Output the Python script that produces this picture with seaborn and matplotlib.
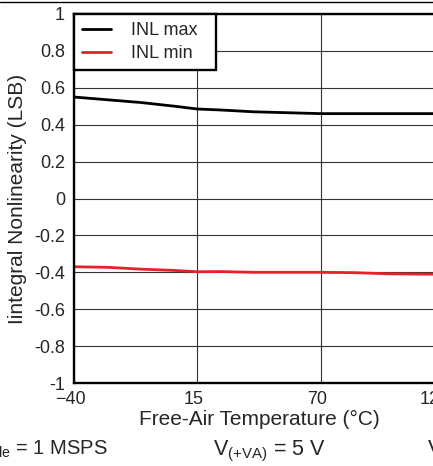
import seaborn as sns
import pandas as pd
import matplotlib.pyplot as plt
import matplotlib.transforms as mtransforms
from matplotlib.lines import Line2D

temps = [-40, -25, -10, 5, 15, 25, 40, 55, 70, 85, 100, 115, 125]
inl_max = [0.55, 0.535, 0.52, 0.50, 0.485, 0.48, 0.47, 0.465, 0.46, 0.46, 0.46, 0.46, 0.46]
inl_min = [-0.37, -0.373, -0.383, -0.39, -0.397, -0.396, -0.40, -0.40, -0.40, -0.402, -0.408, -0.41, -0.41]
x_ticks = [-40, 15, 70, 125]
y_ticks = [-1, -0.8, -0.6, -0.4, -0.2, 0, 0.2, 0.4, 0.6, 0.8, 1]
y_tick_labels = ['-1', '-0.8', '-0.6', '-0.4', '-0.2', '0', '0.2', '0.4', '0.6', '0.8', '1']

df = pd.DataFrame({
    'temp': temps * 2,
    'inl': inl_max + inl_min,
    'series': ['INL max'] * len(temps) + ['INL min'] * len(temps),
})

sns.set_style('white')
plt.rcParams['font.family'] = ['Liberation Sans', 'DejaVu Sans']
plt.rcParams['mathtext.default'] = 'regular'

fig = plt.figure(figsize=(4.33, 4.66), dpi=100)
ax = fig.add_axes([74 / 433, 83 / 466, 370 / 433, 369 / 466])

sns.lineplot(data=df, x='temp', y='inl', hue='series',
             palette={'INL max': 'black', 'INL min': '#e8202a'},
             linewidth=2, ax=ax)

ax.set_xlim(-40, 125)
ax.set_ylim(-1, 1)
ax.set_xticks(x_ticks)
ax.set_yticks(y_ticks)
ax.set_yticklabels(y_tick_labels)
ax.tick_params(length=0, labelsize=13)
ax.tick_params(axis='x', pad=6)
ax.tick_params(axis='y', pad=6.5)
# x tick labels sit a little left of their gridlines in the reference
xlabels = ax.get_xticklabels()
for i, lbl in enumerate(xlabels):
    dx = -9 if i == len(xlabels) - 1 else -4
    shift = mtransforms.ScaledTranslation(dx / 100, 0, fig.dpi_scale_trans)
    lbl.set_transform(lbl.get_transform() + shift)
ax.grid(True, color='#333333', linewidth=0.8)
for s in ax.spines.values():
    s.set_linewidth(1.7)
    s.set_color('black')

ax.set_xlabel('Free-Air Temperature (°C)', fontsize=15, labelpad=1)
ax.set_ylabel('Iintegral Nonlinearity (LSB)', fontsize=15, labelpad=5)

handles, labels = ax.get_legend_handles_labels()
leg = ax.legend(handles, [l + '  ' for l in labels], loc='upper left', borderaxespad=0,
                fontsize=13, fancybox=False, framealpha=1, edgecolor='black',
                handlelength=1.6, borderpad=0.45, labelspacing=0.32, handletextpad=1.1)
leg.get_frame().set_linewidth(1.7)

fig.text(108 / 433, 1 - 455 / 466, 'f$_{sample}$ = 1 MSPS', ha='right', va='baseline', fontsize=14.5)
fig.text(213 / 433, 1 - 455 / 466, 'V$_{(+VA)}$ = 5 V', ha='left', va='baseline', fontsize=15.5)
fig.text(427 / 433, 1 - 455 / 466, 'V$_{(+VBD)}$ = 3.3 V', ha='left', va='baseline', fontsize=15.5)

fig.add_artist(Line2D([0, 1], [1 - 1.5 / 466, 1 - 1.5 / 466], color='black', linewidth=1))

fig.savefig('out.png', dpi=100)
plt.close()
